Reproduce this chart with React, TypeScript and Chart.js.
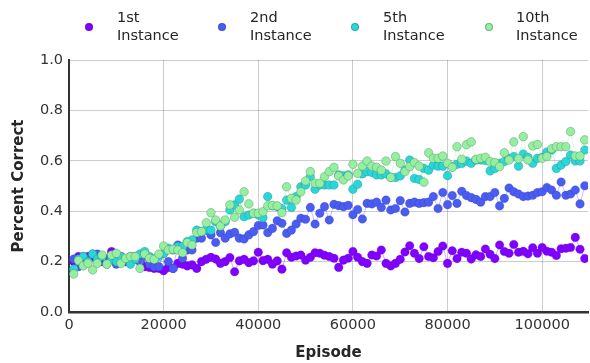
import React, { useEffect, useRef } from "react";
import { Chart, registerables } from "chart.js";

Chart.register(...registerables);

// Episodes: first evaluation at 1000, then every 1000 episodes
const FIRST_EPISODE = 1000;
const EPISODE_STEP = 1000;

const seriesLabels = ["1st\nInstance", "2nd\nInstance", "5th\nInstance", "10th\nInstance"];
const seriesColors = ["#8000ff", "#4a5cf2", "#2ad6d8", "#94efa0"];
const seriesEdge = ["rgba(90,0,170,0.35)", "rgba(40,50,170,0.35)", "rgba(20,120,120,0.45)", "rgba(80,130,90,0.55)"];

const xTicks = [0, 20000, 40000, 60000, 80000, 100000];
const yTicks = [0, 0.2, 0.4, 0.6, 0.8, 1.0];

const instance1 = [
  0.20, 0.22, 0.21, 0.22, 0.22, 0.21, 0.20, 0.21, 0.24, 0.21, 0.22, 0.20, 0.21, 0.22, 0.20, 0.18,
  0.177, 0.173, 0.173, 0.164, 0.177, 0.173, 0.193, 0.190, 0.183, 0.187, 0.173, 0.200, 0.209, 0.217,
  0.210, 0.193, 0.200, 0.216, 0.160, 0.203, 0.209, 0.196, 0.203, 0.237, 0.204, 0.209, 0.190, 0.203,
  0.170, 0.235, 0.217, 0.222, 0.226, 0.206, 0.217, 0.235,
  0.233, 0.225, 0.220, 0.213, 0.177, 0.206, 0.213, 0.240, 0.217, 0.200, 0.193, 0.226, 0.222, 0.246,
  0.193, 0.183, 0.193, 0.209, 0.238, 0.263, 0.233, 0.212, 0.259, 0.220, 0.215, 0.240, 0.262, 0.193,
  0.243, 0.212, 0.237, 0.233, 0.210, 0.227, 0.220, 0.250, 0.229, 0.212, 0.266, 0.240, 0.233, 0.268,
  0.237, 0.241, 0.231, 0.255, 0.233, 0.256, 0.241, 0.237, 0.224, 0.251, 0.253, 0.256, 0.296, 0.249, 0.212,
];

const instance2 = [
  0.21, 0.18, 0.22, 0.21, 0.23, 0.23, 0.22, 0.20, 0.22, 0.19, 0.21, 0.20, 0.22, 0.21, 0.20, 0.22, 0.19, 0.18,
  0.180, 0.233, 0.200, 0.173, 0.266, 0.213, 0.246, 0.246, 0.293, 0.293, 0.325, 0.306, 0.276, 0.315,
  0.293, 0.310, 0.316, 0.293, 0.290, 0.306, 0.319, 0.343, 0.345, 0.315, 0.332, 0.362, 0.352, 0.312,
  0.325, 0.349, 0.372, 0.368, 0.415, 0.349,
  0.392, 0.418, 0.365, 0.427, 0.422, 0.418, 0.423, 0.386, 0.407, 0.369, 0.431, 0.429, 0.436, 0.415,
  0.444, 0.405, 0.411, 0.442, 0.397, 0.431, 0.436, 0.431, 0.434, 0.436, 0.458, 0.411, 0.474, 0.426,
  0.462, 0.431, 0.479, 0.462, 0.454, 0.447, 0.436, 0.458, 0.458, 0.474, 0.421, 0.451, 0.492, 0.477,
  0.468, 0.458, 0.460, 0.463, 0.474, 0.477, 0.494, 0.484, 0.463, 0.516, 0.463, 0.468, 0.484, 0.429, 0.501,
];

const instance5 = [
  0.17, 0.21, 0.22, 0.20, 0.23, 0.21, 0.22, 0.19, 0.21, 0.20, 0.22, 0.21, 0.19, 0.21, 0.23, 0.24,
  0.22, 0.21, 0.22, 0.233, 0.253, 0.246, 0.260, 0.260, 0.280, 0.286, 0.325, 0.319, 0.328, 0.325,
  0.358, 0.341, 0.358, 0.405, 0.425, 0.448, 0.378, 0.385, 0.392, 0.385, 0.374, 0.458, 0.421, 0.418,
  0.411, 0.444, 0.415, 0.458, 0.497, 0.504, 0.537, 0.487,
  0.504, 0.504, 0.504, 0.504, 0.544, 0.540, 0.544, 0.487, 0.507, 0.548, 0.557, 0.554, 0.544, 0.544,
  0.548, 0.534, 0.534, 0.540, 0.563, 0.603, 0.530, 0.526, 0.570, 0.563, 0.583, 0.579, 0.579, 0.541,
  0.577, 0.586, 0.589, 0.599, 0.590, 0.603, 0.603, 0.601, 0.560, 0.570, 0.590, 0.597, 0.610, 0.617,
  0.579, 0.627, 0.614, 0.590, 0.610, 0.614, 0.635, 0.643, 0.570, 0.583, 0.597, 0.623, 0.599, 0.599, 0.643,
];

const instance10 = [
  0.151, 0.204, 0.183, 0.193, 0.167, 0.193, 0.226, 0.190, 0.226, 0.233, 0.193, 0.213, 0.220, 0.220,
  0.173, 0.230, 0.213, 0.209, 0.230, 0.262, 0.246, 0.249, 0.246, 0.235, 0.275, 0.266, 0.315, 0.319,
  0.354, 0.394, 0.365, 0.341, 0.365, 0.425, 0.376, 0.405, 0.477, 0.429, 0.392, 0.392, 0.398, 0.421,
  0.423, 0.421, 0.394, 0.497, 0.451, 0.444, 0.477, 0.520, 0.557, 0.511,
  0.511, 0.537, 0.557, 0.574, 0.540, 0.524, 0.540, 0.586, 0.550, 0.579, 0.599, 0.579, 0.574, 0.563,
  0.599, 0.534, 0.617, 0.590, 0.557, 0.577, 0.593, 0.579, 0.515, 0.632, 0.610, 0.610, 0.619, 0.590,
  0.574, 0.656, 0.606, 0.664, 0.675, 0.606, 0.610, 0.614, 0.597, 0.593, 0.577, 0.632, 0.603, 0.675,
  0.608, 0.696, 0.603, 0.659, 0.665, 0.610, 0.617, 0.648, 0.656, 0.656, 0.656, 0.716, 0.619, 0.619, 0.683,
];

const seriesValues = [instance1, instance2, instance5, instance10];

const X_MAX = 109684;
const FONT = "'DejaVu Sans', sans-serif";
const CANVAS_W = 593;

function hexToRgba(hex: string, a: number) {
  const n = parseInt(hex.slice(1), 16);
  return `rgba(${(n >> 16) & 255},${(n >> 8) & 255},${n & 255},${a})`;
}

export default function App() {
  const canvasRef = useRef<HTMLCanvasElement | null>(null);

  useEffect(() => {
    document.body.style.margin = "0";
    const canvas = canvasRef.current;
    if (!canvas) return;
    const datasets = seriesValues.map((vals, si) => ({
      label: seriesLabels[si],
      data: vals.map((v, i) => ({ x: FIRST_EPISODE + i * EPISODE_STEP, y: v })),
      borderColor: hexToRgba(seriesColors[si], 0.35),
      borderWidth: 1,
      backgroundColor: seriesColors[si],
      pointBackgroundColor: seriesColors[si],
      pointBorderColor: seriesEdge[si],
      pointBorderWidth: 0.7,
      pointRadius: 4.3,
      pointHoverRadius: 4.3,
      showLine: true,
      tension: 0,
      order: 3 - si,
    }));
    const chart = new Chart(canvas, {
      type: "scatter",
      data: { datasets },
      options: {
        animation: false,
        responsive: false,
        devicePixelRatio: 1,
        layout: { padding: { top: 60, right: 0, left: 0, bottom: 0 } },
        plugins: { legend: { display: false }, tooltip: { enabled: false } },
        scales: {
          x: {
            type: "linear",
            min: 0,
            max: X_MAX,
            afterBuildTicks: (scale: any) => {
              scale.ticks = xTicks.map((v) => ({ value: v }));
            },
            afterFit: (scale: any) => {
              scale.height = 51;
              scale.paddingRight = 0;
              scale.paddingLeft = 0;
            },
            ticks: {
              includeBounds: false,
              padding: 5,
              color: "#333333",
              font: { family: FONT, size: 14.5 },
              maxRotation: 0,
              callback: (v: any) => String(v),
            },
            grid: { color: "rgba(0,0,0,0.2)", lineWidth: 1, drawTicks: false },
            border: { display: true, color: "#333333", width: 2.5 },
            title: {
              display: true,
              text: "Episode",
              color: "#262626",
              font: { family: FONT, size: 15, weight: "bold", lineHeight: 1.2 },
              padding: { top: 0, bottom: 1 },
            },
          },
          y: {
            type: "linear",
            min: 0,
            max: 1,
            afterBuildTicks: (scale: any) => {
              scale.ticks = yTicks.map((v) => ({ value: v }));
            },
            afterFit: (scale: any) => {
              scale.width = 69;
            },
            ticks: {
              padding: 6,
              color: "#333333",
              font: { family: FONT, size: 14.5 },
              callback: (v: any) => Number(v).toFixed(1),
            },
            grid: { color: "rgba(0,0,0,0.2)", lineWidth: 1, drawTicks: false },
            border: { display: true, color: "#333333", width: 2 },
            title: {
              display: true,
              text: "Percent Correct",
              color: "#262626",
              font: { family: FONT, size: 15, weight: "bold", lineHeight: 1.2 },
              padding: { top: 10, bottom: 0 },
            },
          },
        },
      },
    });
    return () => chart.destroy();
  }, []);

  const legendMarkerX = [89, 222, 355, 489];
  const legendTextX = [117, 250, 383, 516];

  return (
    <div style={{ position: "relative", width: 590, height: 363, overflow: "hidden", background: "#fff" }}>
      <canvas ref={canvasRef} width={CANVAS_W} height={363} style={{ position: "absolute", left: 0, top: 0 }} />
      {seriesLabels.map((lab, i) => (
        <React.Fragment key={i}>
          <span
            style={{
              position: "absolute",
              left: legendMarkerX[i] - 4.3,
              top: 27 - 4.3,
              width: 8.6,
              height: 8.6,
              borderRadius: "50%",
              background: seriesColors[i],
              boxSizing: "border-box",
              border: `0.7px solid ${seriesEdge[i]}`,
            }}
          />
          <div
            style={{
              position: "absolute",
              left: legendTextX[i],
              top: 8,
              fontFamily: FONT,
              fontSize: 14.5,
              lineHeight: "18px",
              color: "#262626",
              whiteSpace: "pre",
            }}
          >
            {lab}
          </div>
        </React.Fragment>
      ))}
    </div>
  );
}
